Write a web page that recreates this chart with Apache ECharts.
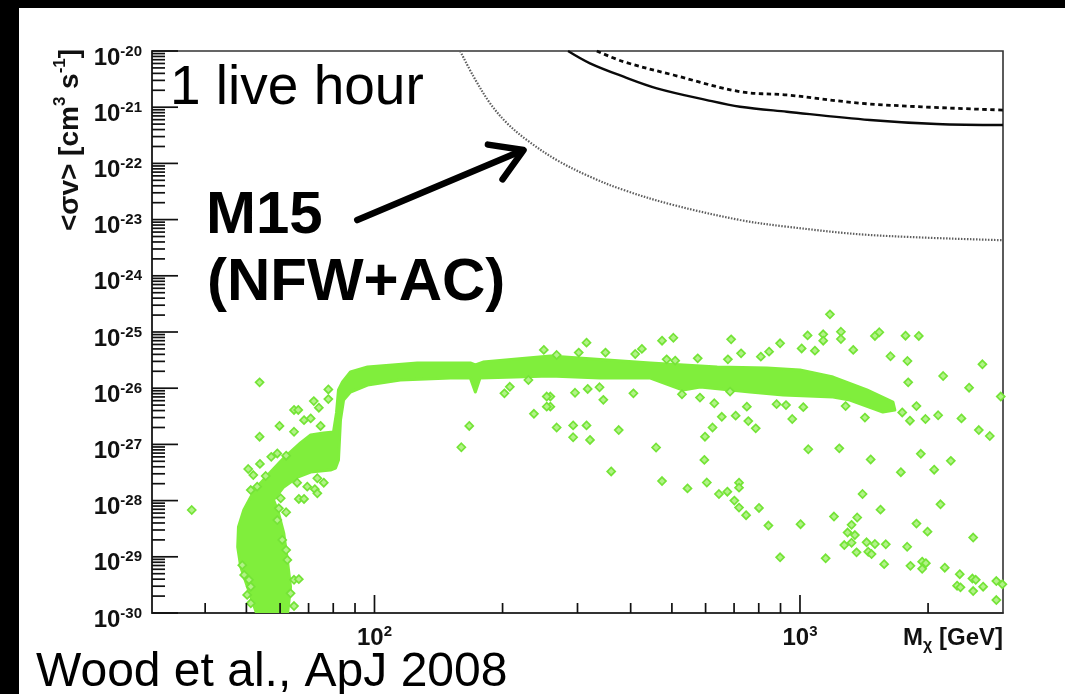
<!DOCTYPE html>
<html><head><meta charset="utf-8">
<script src="https://cdn.jsdelivr.net/npm/echarts/dist/echarts.min.js"></script>
<style>html,body{margin:0;padding:0;background:#fff}#c{width:1065px;height:694px}</style>
</head><body><div id="c"></div>
<script>
// ---- data (M_chi in GeV, <sigma v> in cm^3 s^-1) ----
const xMin = 30, xMax = 3000;
const yMin = 1e-30, yMax = 1e-20;
const xMajorTicks = [100, 1000];
const xMinorTicks = [40, 50, 60, 70, 80, 90, 200, 300, 400, 500, 600, 700, 800, 900, 2000];
const yDecades = [-30, -29, -28, -27, -26, -25, -24, -23, -22, -21, -20];

const dottedLimit = [[159,1e-20],[171,3.49e-21],[187,1.17e-21],[205,5.17e-22],[228,2.61e-22],[268,1.15e-22],[321,5.8e-23],[385,3.36e-23],[504,1.82e-23],[723,9.84e-24],[931,7.48e-24],[1460,5.32e-24],[3000,4.3e-24]];
const solidLimit = [[285,1e-20],[321,6.04e-21],[385,3.49e-21],[461,2.17e-21],[604,1.34e-21],[723,1.02e-21],[931,8.3e-22],[1460,5.92e-22],[2094,5.02e-22],[3000,4.82e-22]];
const dashedLimit = [[333,1e-20],[385,6.45e-21],[504,3.74e-21],[723,1.89e-21],[931,1.65e-21],[1460,1.14e-21],[3000,8.9e-22]];

// outline of the dense band of model points (upper edge, then lower edge back)
const bandUpper = [[52.8,1e-30],[50.3,2.9e-30],[48.5,6.6e-30],[47.7,1.49e-29],[47.9,3.39e-29],[49.3,6.8e-29],[51.2,1.16e-28],[54.0,2.06e-28],[57.0,3.23e-28],[61.2,5.73e-28],[67.0,1.06e-27],[70.8,1.47e-27],[75.9,1.6e-27],[80.1,1.66e-27],[81.4,3.62e-27],[82.3,9.3e-27],[84.1,1.29e-26],[87.8,1.94e-26],[96.3,2.38e-26],[126,2.81e-26],[168,2.81e-26],[172.6,2.59e-26],[180,2.92e-26],[259,3.74e-26],[445,2.81e-26],[639,2.38e-26],[837,2.29e-26],[1000,2.11e-26],[1196,1.58e-26],[1436,9.3e-27],[1654,5.68e-27],[1671,4.09e-27]];
const bandLower = [[1566,3.77e-27],[1310,6.17e-27],[1196,6.97e-27],[913,7.57e-27],[763,8.55e-27],[583,1.05e-26],[531,9.3e-27],[445,1.52e-26],[339,1.52e-26],[259,1.65e-26],[177,1.52e-26],[172.6,8.55e-27],[168,1.52e-26],[151,1.52e-26],[115,1.40e-26],[96.3,1.14e-26],[87.8,8.55e-27],[84.6,6.17e-27],[83.2,2.72e-27],[82.3,5.28e-28],[81.0,3.8e-28],[78.8,3.5e-28],[70.8,3.23e-28],[66.0,2.63e-28],[61.2,1.75e-28],[57.9,1.03e-28],[59.5,6.0e-29],[61.2,2.65e-29],[62.4,8.8e-30],[63.5,2.9e-30],[62.5,1e-30]];

// scattered model points outside the dense band
const outliersHigh = [[1176,2.06e-25],[315,6.46e-26],[474,7.0e-26],[504,7.9e-26],[689,7.4e-26],[898,6.3e-26],[1042,8.7e-26],[1134,9.1e-26],[1134,7.0e-26],[1248,1.01e-25],[1248,7.5e-26],[1500,8.5e-26],[1536,9.9e-26],[1770,8.6e-26],[1902,8.5e-26],[1334,4.8e-26],[1632,3.7e-26],[1789,3.05e-26],[2684,2.66e-26],[2170,1.65e-26],[1796,1.27e-26],[2497,1.02e-26],[2964,7.1e-27],
[302,4.3e-26],[349,4.3e-26],[410,4.06e-26],[425,5.0e-26],[575,3.4e-26],[727,4.17e-26],[809,3.64e-26],[846,4.47e-26],[1009,5.1e-26],[1084,4.66e-26],[486,3.26e-26],[509,3.09e-26],[677,3.26e-26],[268,3.9e-26],
[296,8.3e-27],[317,9.7e-27],[338,1.04e-26],[345,6.2e-27],[406,8.1e-27],[528,7.8e-27],[582,6.8e-27],[629,5.4e-27],[685,8.7e-27],[750,4.7e-27],[881,5.2e-27],[927,5.0e-27],[1018,4.6e-27],[959,2.83e-27],[1280,4.8e-27],[1421,3.0e-27],[1739,3.7e-27],[1813,2.64e-27],[1878,4.8e-27],[1972,2.83e-27],[2112,3.3e-27],[2396,2.9e-27],[2632,1.8e-27],[2793,1.41e-27],[655,3.1e-27],[706,3.25e-27],[756,2.6e-27],[787,1.93e-27],[623,2.0e-27],[598,1.37e-27],[268,2.0e-27],[293,2.18e-27],[315,2.18e-27],[293,1.34e-27],[321,1.2e-27],[375,1.8e-27],[459,8.8e-28],[596,5.3e-28],[360,3.3e-28],[474,2.23e-28],[544,1.65e-28],[604,2.1e-28],[645,1.31e-28],[675,1.44e-28],[701,1.0e-28],[719,2.08e-28],[719,1.7e-28],[719,7.5e-29],[747,5.5e-29],[801,7.4e-29],[843,3.6e-29],[1003,3.8e-29],[898,9.8e-30],[1046,8.2e-28],[1237,8.5e-28],[1466,5.4e-28],[1726,3.2e-28],[1923,6.8e-28],[2067,3.55e-28],[2262,5.1e-28],[2139,8.6e-29],[1403,1.31e-28],[1546,6.9e-29],[1202,5.2e-29],[1363,5.0e-29],[1322,3.7e-29],[1294,2.7e-29],[1346,2.44e-29],[1271,1.62e-29],[1322,1.78e-29],[1434,1.81e-29],[1500,1.69e-29],[1591,1.67e-29],[1358,1.2e-29],[1447,1.23e-29],[1473,1.12e-29],[1786,1.51e-29],[1878,3.9e-29],[1994,2.8e-29],[2553,2.2e-29],[1149,9.4e-30],[1577,7.4e-30],[1818,6.9e-30],[1937,8.2e-30],[1976,7.7e-30],[1937,6.1e-30],[2189,6.4e-30],[2374,4.9e-30],[2340,3.06e-30],[2383,2.86e-30],[2543,4.1e-30],[2589,3.9e-30],[2553,2.46e-30],[2694,2.94e-30],[2894,3.7e-30],[2990,3.24e-30],[2894,1.7e-30],[259,7.1e-27],[259,4.7e-27],
[250,4.8e-26],[230,1.4e-26],[208,1.06e-26],[202,8.1e-27],[254,7.1e-27],[254,4.7e-27],[237,3.5e-27],[167,2.13e-27],[160,8.9e-28]];
const outliersLow = [[53.7,1.27e-26],[37.2,6.8e-29],[77.9,9.5e-27],[77.9,6.4e-27],[72,5.9e-27],[74,4.5e-27],[64.7,4.1e-27],[66.2,4.1e-27],[59.8,2.13e-27],[53.7,1.37e-27],[64.7,1.68e-27],[68.3,2.7e-27],[70.8,2.9e-27],[74.7,2.13e-27],[50.5,3.65e-28],[53.8,4.5e-28],[51.9,2.85e-28],[57.2,6.0e-28],[59.1,6.9e-28],[62,6.3e-28],[55.5,2.74e-28],[51.2,1.54e-28],[53,1.77e-28],[65.8,2.08e-28],[69.5,1.77e-28],[76,2.08e-28],[73.4,2.5e-28],[72.4,1.6e-28],[73.4,1.35e-28],[66.4,1.07e-28],[68.3,1.07e-28],[60.2,1.1e-28],[59.6,7.3e-29],[62,6.2e-29],[59.1,4.5e-29],[48.9,7.1e-30],[49.4,4.75e-30],[50.7,3.9e-30],[51.2,2.94e-30],[62.4,8.8e-30],[62,1.32e-29],[60.7,2.0e-29],[64.7,3.9e-30],[66.4,4.0e-30],[63.5,2.24e-30],[64.7,1.33e-30],[51.2,1.49e-30],[50.2,2.1e-30]];

// annotation arrow (data coordinates): tail -> tip
const arrowTail = [91.1, 9.8e-24];
const arrowTip = [224, 1.73e-22];

// ECharts rounds very small numbers to 0, so the y values are handed to the
// log axis in units of 1e-30 cm^3/s; labels show the true exponent.
const Y_UNIT_EXP = -30;
const Y_SCALE = Math.pow(10, -Y_UNIT_EXP);
const sc = p => [p[0], p[1] * Y_SCALE];

const FONT = "'Liberation Sans', Arial, Helvetica, sans-serif";
const TXT = '#111';

const chart = echarts.init(document.getElementById('c'), null, {renderer: 'canvas'});

function expOf(v) { return Math.round(Math.log10(v)); }
function isDecade(v) { const e = Math.log10(v); return Math.abs(e - Math.round(e)) < 1e-6; }

function renderTicks(params, api) {
  const cs = params.coordSys;
  const left = cs.x, bottom = cs.y + cs.height;
  const ch = [];
  const st = {stroke: '#111', lineWidth: 1.7};
  for (let i = 0; i < yDecades.length; i++) {
    const e = yDecades[i];
    const kmax = (i === yDecades.length - 1) ? 1 : 9;
    for (let k = 1; k <= kmax; k++) {
      const y = api.coord(sc([xMin, k * Math.pow(10, e)]))[1];
      const len = k === 1 ? 26 : 13;
      ch.push({type: 'line', shape: {x1: left, y1: y, x2: left + len, y2: y}, style: st});
    }
  }
  xMajorTicks.forEach(v => {
    const x = api.coord(sc([v, yMin]))[0];
    ch.push({type: 'line', shape: {x1: x, y1: bottom, x2: x, y2: bottom - 18}, style: st});
  });
  xMinorTicks.forEach(v => {
    const x = api.coord(sc([v, yMin]))[0];
    ch.push({type: 'line', shape: {x1: x, y1: bottom, x2: x, y2: bottom - 10}, style: st});
  });
  return {type: 'group', children: ch};
}

function renderBand(params, api) {
  const pts = bandUpper.concat(bandLower).map(p => api.coord(sc(p)));
  return {type: 'polygon', shape: {points: pts},
    style: {fill: '#80ee3c', stroke: '#80ee3c', lineWidth: 3, lineJoin: 'round'}};
}

function renderArrow(params, api) {
  const a = api.coord(sc(arrowTail)), b = api.coord(sc(arrowTip));
  const ang = Math.atan2(b[1] - a[1], b[0] - a[0]);
  const L = 36, spread = 0.55;
  const p1 = [b[0] - L * Math.cos(ang - spread), b[1] - L * Math.sin(ang - spread)];
  const p2 = [b[0] - L * Math.cos(ang + spread), b[1] - L * Math.sin(ang + spread)];
  const st = {stroke: '#000', lineWidth: 6.5, lineCap: 'round', lineJoin: 'round', fill: null};
  return {type: 'group', children: [
    {type: 'line', shape: {x1: a[0], y1: a[1], x2: b[0] - 2 * Math.cos(ang), y2: b[1] - 2 * Math.sin(ang)}, style: st},
    {type: 'polyline', shape: {points: [p1, b, p2]}, style: st}
  ]};
}

const labelRich = {
  b: {fontSize: 24, fontWeight: 'bold', fontFamily: FONT, color: TXT, lineHeight: 26, verticalAlign: 'bottom'},
  s: {fontSize: 15, fontWeight: 'bold', fontFamily: FONT, color: TXT, lineHeight: 14, verticalAlign: 'top'}
};
const ref = [[100, 1e-25]].map(sc);

const option = {
  animation: false,
  backgroundColor: '#ffffff',
  grid: {left: 152, top: 51, right: 62, bottom: 81, show: true, borderColor: '#333', borderWidth: 1.6, backgroundColor: '#fff'},
  xAxis: {
    type: 'log', logBase: 10, min: xMin, max: xMax,
    axisLine: {show: true, lineStyle: {color: '#222', width: 1.6}},
    axisTick: {show: false}, splitLine: {show: false}, minorTick: {show: false},
    axisLabel: {
      margin: 11, showMinLabel: false, showMaxLabel: false,
      formatter: v => isDecade(v) ? '{b|10}{s|' + expOf(v) + '}' : '',
      rich: labelRich
    }
  },
  yAxis: {
    type: 'log', logBase: 10, min: yMin * Y_SCALE, max: yMax * Y_SCALE, interval: 1,
    axisLine: {show: true, lineStyle: {color: '#222', width: 1.6}},
    axisTick: {show: false}, splitLine: {show: false}, minorTick: {show: false},
    axisLabel: {
      margin: 10, padding: [12, 0, 0, 0],
      formatter: v => isDecade(v) ? '{b|10}{s|' + (expOf(v) + Y_UNIT_EXP) + '}' : '',
      rich: labelRich
    }
  },
  series: [
    {type: 'custom', name: 'band', renderItem: renderBand, data: ref, clip: true, z: 2, silent: true},
    {type: 'scatter', name: 'models', data: outliersHigh.concat(outliersLow).map(sc), symbol: 'diamond', symbolSize: 8,
      itemStyle: {color: '#b2f288', borderColor: '#74e436', borderWidth: 1.7, opacity: 1}, z: 3, clip: true, silent: true},
    {type: 'line', name: 'dotted', data: dottedLimit.map(sc), showSymbol: false, smooth: 0.35, clip: true, z: 4,
      lineStyle: {color: '#5e5e5e', width: 2.2, type: [1.5, 1.5]}},
    {type: 'line', name: 'solid', data: solidLimit.map(sc), showSymbol: false, smooth: 0.35, clip: true, z: 4,
      lineStyle: {color: '#0a0a0a', width: 2.4}},
    {type: 'line', name: 'dashed', data: dashedLimit.map(sc), showSymbol: false, smooth: 0.35, clip: true, z: 4,
      lineStyle: {color: '#0a0a0a', width: 2.8, type: [4.5, 3.5]}},
    {type: 'custom', name: 'ticks', renderItem: renderTicks, data: ref, z: 6, silent: true},
    {type: 'custom', name: 'arrow', renderItem: renderArrow, data: ref, z: 7, silent: true}
  ],
  graphic: [
    {type: 'rect', shape: {x: 0, y: 0, width: 1065, height: 8}, style: {fill: '#000'}, z: 100},
    {type: 'rect', shape: {x: 0, y: 0, width: 19, height: 694}, style: {fill: '#000'}, z: 100},
    {type: 'text', x: 170, y: 89, z: 50, style: {text: '1 live hour', fontSize: 55, fontFamily: FONT, fill: '#000', align: 'left', verticalAlign: 'middle'}},
    {type: 'text', x: 206, y: 216, z: 50, style: {text: 'M15', fontSize: 60, fontWeight: 'bold', fontFamily: FONT, fill: '#000', align: 'left', verticalAlign: 'middle'}},
    {type: 'text', x: 207, y: 283, z: 50, style: {text: '(NFW+AC)', fontSize: 60, fontWeight: 'bold', fontFamily: FONT, fill: '#000', align: 'left', verticalAlign: 'middle'}},
    {type: 'text', x: 36, y: 673, z: 50, style: {text: 'Wood et al., ApJ 2008', fontSize: 48, fontFamily: FONT, fill: '#000', align: 'left', verticalAlign: 'middle'}},
    {type: 'text', x: 68, y: 140, rotation: Math.PI / 2, z: 50, style: {
      text: '{a|<σv> [cm}{s|3}{a| s}{s|-1}{a|]}', align: 'center', verticalAlign: 'middle',
      rich: {a: {fontSize: 28, fontWeight: 'bold', fontFamily: FONT, fill: TXT, lineHeight: 32, verticalAlign: 'bottom'},
             s: {fontSize: 17, fontWeight: 'bold', fontFamily: FONT, fill: TXT, lineHeight: 18, verticalAlign: 'top'}}}},
    {type: 'text', x: 1003, y: 640, z: 50, style: {
      text: '{a|M}{u|χ}{a| [GeV]}', align: 'right', verticalAlign: 'middle',
      rich: {a: {fontSize: 24, fontWeight: 'bold', fontFamily: FONT, fill: TXT, lineHeight: 28, verticalAlign: 'top'},
             u: {fontSize: 16, fontWeight: 'bold', fontFamily: FONT, fill: TXT, lineHeight: 16, verticalAlign: 'bottom'}}}}
  ]
};
chart.setOption(option);
</script>
</body></html>
